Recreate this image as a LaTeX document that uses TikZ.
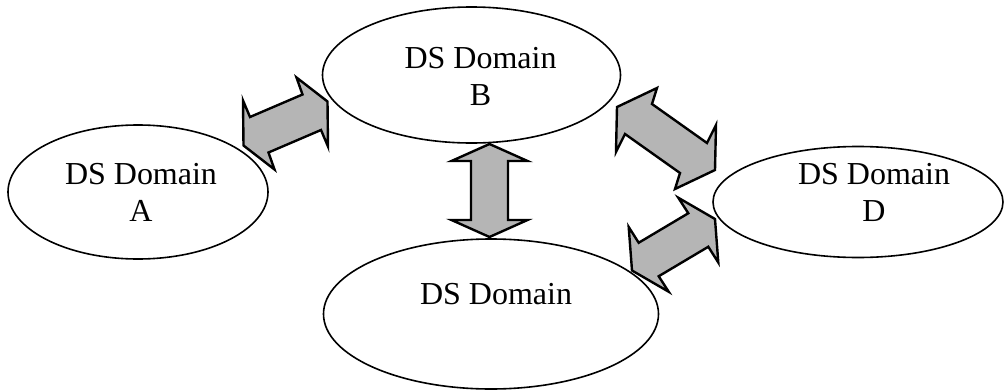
\documentclass[tikz,border=0pt]{standalone}
\usepackage{fontspec}
\setmainfont{Liberation Serif}
\usetikzlibrary{shapes.geometric,calc}

\tikzset{
  dsdomain/.style={ellipse, draw, line width=1.6pt, inner sep=0pt},
  dslabel/.style={align=center, inner sep=0pt,
    font=\fontsize{32}{37}\selectfont},
  blockarrow/.style={draw, line width=2.4pt, line join=miter,
    fill=black!29},
}

% Point-symmetric double block arrow around centre #1:
% #2..#5 are the first four outline points, #6 is minus the fifth;
% the other half is the same five points mirrored through the centre.
\newcommand\dsarrow[6]{%
  \draw[blockarrow]
    ($#1+(#2)$) -- ($#1+(#3)$) -- ($#1+(#4)$) -- ($#1+(#5)$) -- ($#1-(#6)$)
    -- ($#1-(#2)$) -- ($#1-(#3)$) -- ($#1-(#4)$) -- ($#1-(#5)$) -- ($#1+(#6)$)
    -- cycle;}

\begin{document}
\begin{tikzpicture}[x=1pt, y=-1pt]
  \useasboundingbox (0,0) rectangle (1005,391);

  % domains
  \node[dsdomain, minimum width=260pt, minimum height=134pt] (a) at (138,192) {};
  \node[dsdomain, minimum width=298pt, minimum height=136pt] (b) at (471.5,75) {};
  \node[dsdomain, minimum width=335pt, minimum height=150pt] (c) at (491,314) {};
  \node[dsdomain, minimum width=290pt, minimum height=111pt] (d) at (858,202) {};

  % labels
  \node[dslabel] (la) at (141,192.5) {DS Domain\\A};
  \node[dslabel] (lb) at (480.5,76.5) {DS Domain\\B};
  \node[dslabel] (lc) at (496,294.5) {DS Domain};
  \node[dslabel] (ld) at (874,192.5) {DS Domain\\D};

  % links between domains
  \dsarrow{(285.5,123.5)}{11,-46}{42,-22}{42.5,23}{35.5,6.5}{17,-29}
  \dsarrow{(666,138.5)}{9,50.5}{49,31.5}{50,-13.5}{41,4.5}{14,34.5}
  \dsarrow{(673.5,244.75)}{4.8,-47}{41.5,-25.75}{44.8,17.75}{34.8,2}{14.8,-31.5}
  \dsarrow{(489.5,190.5)}{0,-46.5}{38,-29.5}{18.5,-29.5}{18.5,29.5}{-38,-29.5}
\end{tikzpicture}
\end{document}
